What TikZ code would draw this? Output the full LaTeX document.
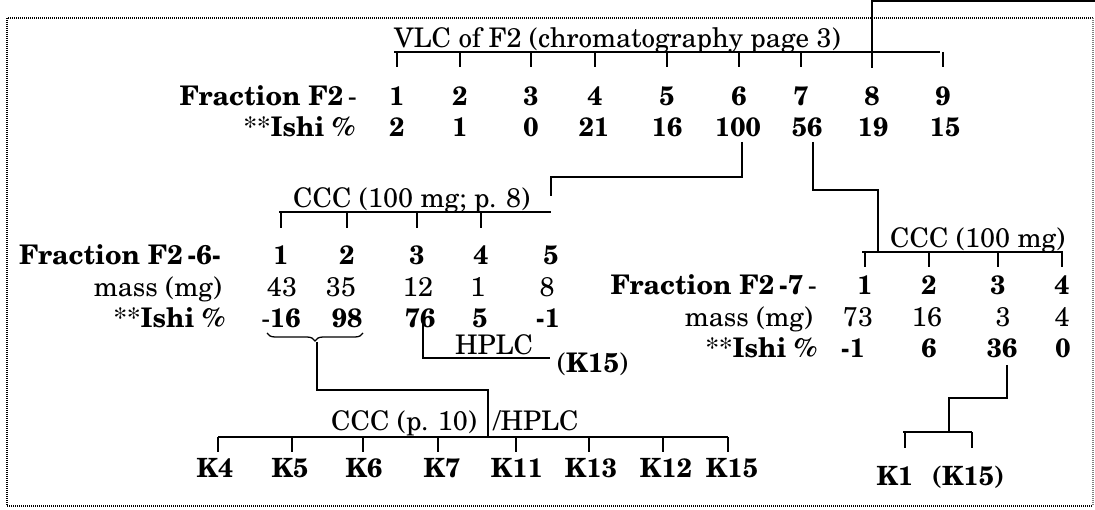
\documentclass[tikz,border=0pt]{standalone}
\usepackage[T1]{fontenc}
\usepackage{newcent}
\usetikzlibrary{decorations.pathreplacing}
\tikzset{
  txt/.style={inner sep=0pt, font=\fontsize{27}{31}\selectfont},
  num/.style={txt, anchor=base},
  bnum/.style={txt, anchor=base, font=\fontsize{26.5}{31}\selectfont\bfseries},
  rlab/.style={txt, anchor=base east},
  llab/.style={txt, anchor=base west},
  conn/.style={line width=1.6pt},
  tick/.style={line width=1.6pt},
  frame/.style={dash pattern=on 1pt off 1pt, line width=1.2pt}
}
\begin{document}
\begin{tikzpicture}[x=1pt,y=-1pt]
\useasboundingbox (0,0) rectangle (1095,510);
% frame
\draw[frame] (1093,18) -- (7,18) -- (7,506) -- (1093,506);
\draw[frame, gray] (1093,18) -- (1093,506);

% ---------- top: VLC of F2 ----------
\node[llab] (vlc) at (394,48) {VLC of F2 (chromatography page 3)};
\node[rlab] (fF2) at (357,106) {\textbf{Fraction F2}\,-};
\node[rlab] (iF2) at (355,137) {**\textbf{Ishi \%}};
\foreach \i/\x/\v in {1/397/1,2/460/2,3/531/3,4/595/4,5/667/5,6/739/6,7/801/7,8/872/8,9/943/9}
  \node[bnum] (f\i) at (\x,106) {\v};
\foreach \i/\x/\v in {1/397/2,2/460/1,3/531/0,4/594/21,5/667/16,6/738/100,7/807/56,8/873/19,9/945/15}
  \node[bnum] (i\i) at (\x,137) {\v};
\coordinate (vbarL) at (394,52);
\coordinate (vbarR) at (940,52);
\draw[conn] (vbarL) -- (vbarR);
\foreach \i in {1,2,3,4,5,6,7,9}
  \draw[tick] (f\i |- vbarL) -- ++(0,15);
\coordinate (topR) at (1095,1);
\coordinate (t8) at (872,68);
\draw[conn] (topR) -| (t8);

% ---------- F2-6 ----------
\node[llab] (ccc6) at (293,208) {CCC (100 mg; p. 8)};
\coordinate (c6barL) at (279,212);
\coordinate (c6barR) at (551,212);
\node[rlab] (fF26) at (221,265) {\textbf{Fraction F2}\,\textbf{-6-}};
\node[rlab] (mF26) at (222,297) {mass (mg)};
\node[rlab] (iF26) at (225,328) {**\textbf{Ishi \%}};
\foreach \i/\x/\v in {1/281/1,2/347/2,3/417/3,4/481/4,5/551/5}
  \node[bnum] (a\i) at (\x,265) {\v};
\foreach \i/\x/\v in {1/282/43,2/341/35,3/418/12,4/478/1,5/547/8}
  \node[num] (am\i) at (\x,297) {\v};
\foreach \i/\x/\v in {1/281/{{\mdseries -}16},2/347/98,3/420/76,4/480/5,5/548/-1}
  \node[bnum] (ai\i) at (\x,328) {\v};
\draw[conn] (c6barL) -- (c6barR);
\foreach \i in {1,2,3,4}
  \draw[tick] (a\i |- c6barL) -- ++(0,16);
\coordinate (c6j) at (551,177);
\draw[conn] ([xshift=4pt,yshift=-5pt]i6.base) |- (c6j) -- ([yshift=16pt]c6j |- c6barL);

% HPLC branch
\node[llab] (hplc) at (455,355) {HPLC};
\node[llab] (k15a) at (557,373) {(\textbf{K15})};
\coordinate (hp) at (550,358);
\draw[conn] ([xshift=3pt,yshift=8pt]ai3.base) |- (hp);

% brace and K-series
\draw[line width=1.3pt, decorate, decoration={brace, mirror, amplitude=8pt}] (267,333) -- (363,333);
\coordinate (brt) at (317,342);
\coordinate (kj) at (488,390);
\coordinate (kbarL) at (218,437);
\coordinate (kbarR) at (728,437);
\draw[conn] (brt) |- (kj) -- (kj |- kbarL);
\draw[conn] (kbarL) -- (kbarR);
\node[llab] (ccc10) at (331,430) {CCC (p. 10)};
\node[llab] (hplc2) at (493,430) {/HPLC};
\foreach \i/\x/\v in {1/215/K4,2/290/K5,3/364/K6,4/442/K7,5/517/K11,6/591/K13,7/666/K12,8/732/K15}
  \node[bnum] (k\i) at (\x,477) {\v};
\foreach \i/\x in {1/218,2/292,3/363,4/438,5/516,6/589,7/663,8/728}
  \draw[tick] (\x,437) -- (\x,452);

% ---------- F2-7 ----------
\node[llab] (ccc7) at (890,248) {CCC (100 mg)};
\coordinate (c7barL) at (862,252);
\coordinate (c7barR) at (1063,252);
\node[rlab] (fF27) at (817,295) {\textbf{Fraction F2}\,\textbf{-7}\,-};
\node[rlab] (mF27) at (813,327) {mass (mg)};
\node[rlab] (iF27) at (817,358) {**\textbf{Ishi \%}};
\foreach \i/\x/\v in {1/865/1,2/929/2,3/998/3,4/1062/4}
  \node[bnum] (b\i) at (\x,295) {\v};
\foreach \i/\x/\v in {1/858/73,2/927/16,3/1003/3,4/1062/4}
  \node[num] (bm\i) at (\x,327) {\v};
\foreach \i/\x/\v in {1/853/-1,2/929/6,3/1002/36,4/1063/0}
  \node[bnum] (bi\i) at (\x,358) {\v};
\draw[conn] (c7barL) -- (c7barR);
\foreach \i in {1,2,3,4}
  \draw[tick] (b\i |- c7barL) -- ++(0,15);
\coordinate (c7j) at (878,190);
\draw[conn] ([xshift=6pt,yshift=-5pt]i7.base) |- (c7j) -- (c7j |- c7barL);

% K1 (K15)
\coordinate (kkj) at (949,398);
\coordinate (kkL) at (903,432);
\coordinate (kkR) at (972,432);
\draw[conn] ([xshift=5pt,yshift=-7pt]bi3.base) |- (kkj) -- (kkj |- kkL);
\draw[conn] (kkL) -- (kkR);
\node[bnum] (kk1) at (895,485) {K1};
\node[bnum] (kk2) at (968,485) {(K15)};
\draw[tick] (905,432) -- (905,448);
\draw[tick] (kkR) -- ++(0,16);
\end{tikzpicture}
\end{document}
